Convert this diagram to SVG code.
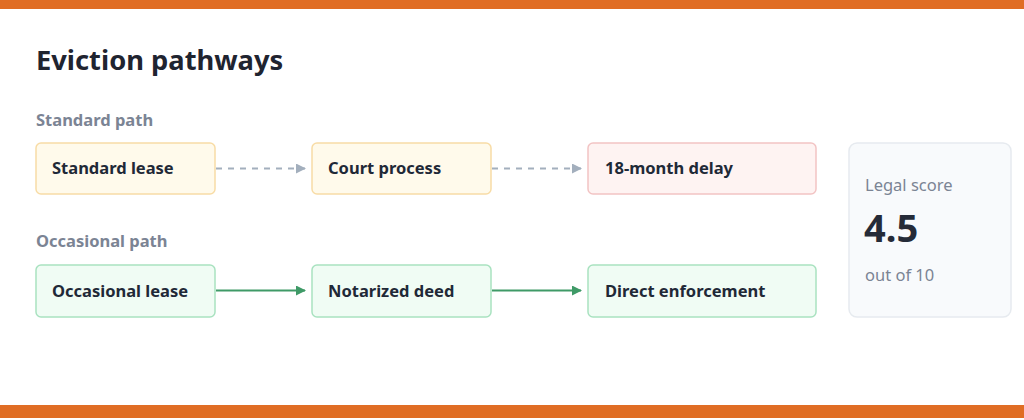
<svg xmlns="http://www.w3.org/2000/svg" width="1024" height="420" viewBox="0 0 1024 420">
<defs>
<style>
text{font-family:"Noto Sans","Open Sans","Liberation Sans",sans-serif}
.lbl{font-size:16.5px;font-weight:700;fill:#1f2937}
.sec{font-size:16.5px;font-weight:700;fill:#7b8494}
.amb{fill:#fffaeb;stroke:#f8dca6;stroke-width:1.5}
.red{fill:#fef3f2;stroke:#f2c4c4;stroke-width:1.5}
.grn{fill:#f0fcf4;stroke:#a9e2c0;stroke-width:1.5}
.dash{stroke:#a3afbd;stroke-width:2;stroke-dasharray:6 6;fill:none}
.sol{stroke:#3f9a67;stroke-width:2;fill:none}
</style>
<marker id="ag" viewBox="0 0 10 10" refX="9" refY="5" markerWidth="5" markerHeight="5" orient="auto"><path d="M0,0 L10,5 L0,10 z" fill="#a3afbd"/></marker>
<marker id="ar" viewBox="0 0 10 10" refX="9" refY="5" markerWidth="5" markerHeight="5" orient="auto"><path d="M0,0 L10,5 L0,10 z" fill="#3f9a67"/></marker>
</defs>
<rect x="0" y="0" width="1024" height="420" fill="#ffffff"/>
<rect x="0" y="0" width="1024" height="9" fill="#e06d24"/>
<rect x="0" y="405" width="1024" height="13" fill="#e06d24"/>
<text x="36" y="70" font-size="27.3" font-weight="700" fill="#1f2430">Eviction pathways</text>
<text class="sec" x="36" y="126">Standard path</text>
<text class="sec" x="36" y="247">Occasional path</text>
<g id="connectors">
<line class="dash" x1="216" y1="168.5" x2="305" y2="168.5" marker-end="url(#ag)"/>
<line class="dash" x1="492" y1="168.5" x2="581" y2="168.5" marker-end="url(#ag)"/>
<line class="sol" x1="216" y1="290.5" x2="305" y2="290.5" marker-end="url(#ar)"/>
<line class="sol" x1="492" y1="290.5" x2="581" y2="290.5" marker-end="url(#ar)"/>
</g>
<g id="standard-lease"><rect class="amb" x="36" y="143" width="179" height="51" rx="5"/><text class="lbl" x="52" y="174">Standard lease</text></g>
<g id="court-process"><rect class="amb" x="312" y="143" width="179" height="51" rx="5"/><text class="lbl" x="328" y="174">Court process</text></g>
<g id="delay"><rect class="red" x="588" y="143" width="228" height="51" rx="5"/><text class="lbl" x="605" y="174">18-month delay</text></g>
<g id="occasional-lease"><rect class="grn" x="36" y="265" width="179" height="52" rx="5"/><text class="lbl" x="52" y="297">Occasional lease</text></g>
<g id="notarized-deed"><rect class="grn" x="312" y="265" width="179" height="52" rx="5"/><text class="lbl" x="328" y="297">Notarized deed</text></g>
<g id="direct-enforcement"><rect class="grn" x="588" y="265" width="228" height="52" rx="5"/><text class="lbl" x="605" y="297">Direct enforcement</text></g>
<g id="score">
<rect x="849" y="143" width="162" height="174" rx="8" fill="#f8fafc" stroke="#e6eaef" stroke-width="1.5"/>
<text x="865" y="191" font-size="16.5" fill="#7b8494">Legal score</text>
<text x="864" y="242" font-size="38" font-weight="700" fill="#252b38">4.5</text>
<text x="865" y="281" font-size="16.5" fill="#7b8494">out of 10</text>
</g>
</svg>
